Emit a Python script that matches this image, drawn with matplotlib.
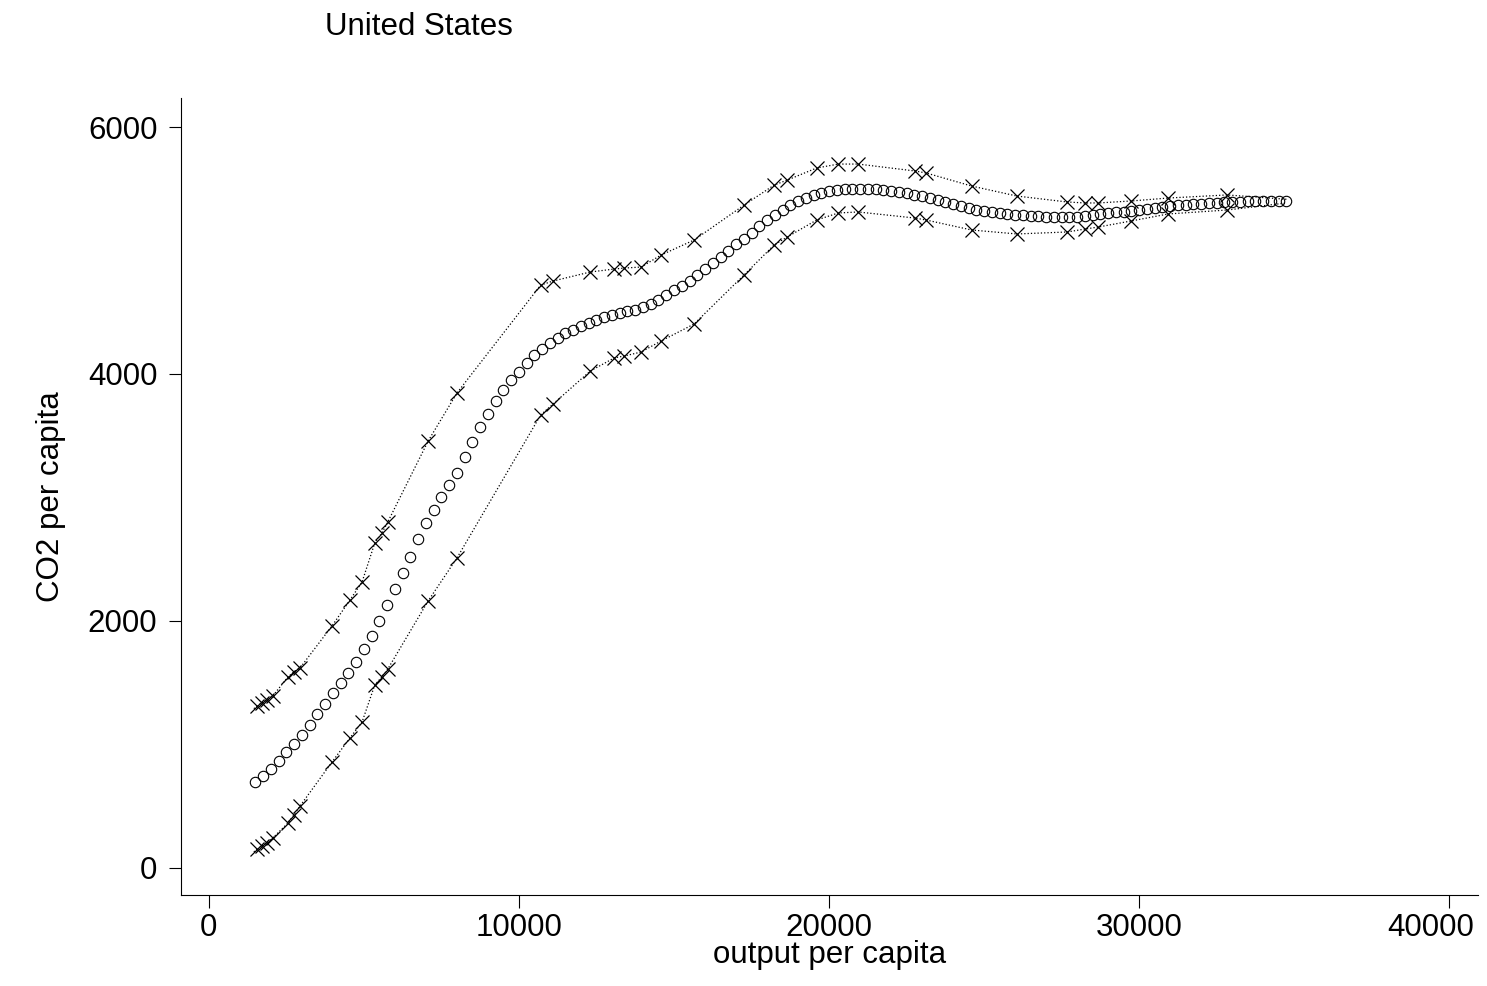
import numpy as np
import matplotlib.pyplot as plt
import matplotlib.transforms as mtransforms

plt.rcParams['font.family'] = ['Liberation Sans', 'DejaVu Sans']

# fitted curve (circles)
fit_x = np.arange(1500, 35000, 250)
fit_y = [700, 745, 800, 865, 940, 1005, 1080, 1160, 1250, 1330, 1420, 1500, 1580, 1670,
         1770, 1880, 2000, 2130, 2260, 2390, 2520, 2660, 2790, 2900, 3000, 3100, 3200,
         3330, 3450, 3570, 3680, 3780, 3870, 3950, 4020, 4090, 4150, 4205, 4250, 4295,
         4330, 4360, 4390, 4415, 4440, 4460, 4480, 4495, 4510, 4522, 4540, 4568, 4600,
         4640, 4680, 4715, 4750, 4800, 4850, 4900, 4950, 5000, 5050, 5095, 5140, 5195,
         5250, 5290, 5330, 5365, 5400, 5425, 5450, 5465, 5480, 5490, 5495, 5498, 5500,
         5498, 5495, 5490, 5485, 5475, 5465, 5453, 5440, 5425, 5410, 5393, 5375, 5360,
         5345, 5332, 5320, 5310, 5300, 5295, 5290, 5285, 5280, 5277, 5275, 5273, 5272,
         5273, 5275, 5280, 5285, 5292, 5300, 5308, 5315, 5322, 5330, 5338, 5345, 5352,
         5360, 5365, 5370, 5375, 5380, 5384, 5388, 5390, 5393, 5395, 5398, 5399, 5400,
         5401, 5402, 5401]

# confidence band at observed x
band_x = [1450, 1550, 1710, 1870, 2060, 2550, 2740, 2940, 3970, 4550, 4940, 5350, 5580, 5770,
          7070, 8000, 10700, 11100, 12300, 13070, 13400, 13940, 14580, 15650, 17260,
          18230, 18650, 19600, 20300, 20940, 22770, 23130, 24600, 26060, 27680, 28260,
          28680, 29740, 30940, 32840, 34750]
upper = [1290, 1312, 1336, 1360, 1393, 1547, 1587, 1620, 1960, 2170, 2316, 2632, 2713, 2802,
         3457, 3846, 4720, 4753, 4826, 4850, 4858, 4866, 4963, 5085, 5368,
         5530, 5570, 5668, 5700, 5700, 5644, 5628, 5522, 5441, 5393, 5385,
         5385, 5401, 5425, 5450, 5415]
lower = [130, 154, 178, 202, 243, 364, 429, 502, 858, 1053, 1182, 1482, 1547, 1611,
         2162, 2510, 3668, 3757, 4024, 4130, 4146, 4178, 4267, 4405, 4802,
         5045, 5109, 5247, 5304, 5312, 5263, 5247, 5166, 5134, 5150, 5174,
         5190, 5239, 5296, 5328, 5385]

fig = plt.figure(figsize=(14.87, 9.86), dpi=100)
ax = fig.add_axes([181/1487, 91/986, 1297/1487, 797/986])

for b in (upper, lower):
    ax.plot(band_x, b, ':', color='black', lw=0.9)
    ax.plot(band_x[1:-1], b[1:-1], 'x', color='black', ms=10, mew=0.9)
ax.plot(fit_x, fit_y, 'o', mfc='none', mec='black', ms=7.5, mew=0.8)

ax.set_xlim(-900, 40930)
ax.set_ylim(-219, 6235)
ax.set_xticks([0, 10000, 20000, 30000, 40000])
ax.set_yticks([0, 2000, 4000, 6000])
for s in ('top', 'right'):
    ax.spines[s].set_visible(False)
ax.tick_params(labelsize=22.5, length=9, width=0.8)
ax.tick_params(axis='y', pad=8)
ax.tick_params(axis='x', pad=4)
last = ax.get_xticklabels()[-1]
last.set_transform(last.get_transform() + mtransforms.ScaledTranslation(-0.18, 0, fig.dpi_scale_trans))
ax.set_xlabel('output per capita', fontsize=22.5, labelpad=-2)
ax.set_ylabel('CO2 per capita', fontsize=22.5, labelpad=16)
fig.text(325/1487, 1 - 27/986, 'United States', fontsize=22.5, va='center', ha='left')

fig.savefig('out.png')
